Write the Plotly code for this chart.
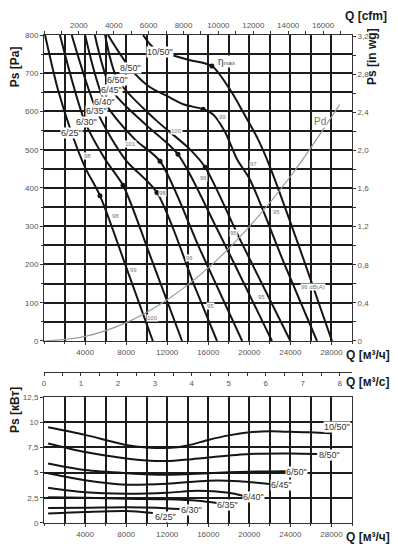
import plotly.graph_objects as go

# ---------------- data: fan curves, static pressure Ps [Pa] vs Q [m3/h] ----------------
NAMES = ['6/25"', '6/30"', '6/35"', '6/40"', '6/45"', '6/50"', '8/50"', '10/50"']

Q_625 = [100, 1350, 2700, 4000, 5450, 8100, 10600]
PA_625 = [800, 658, 543, 454, 380, 186, 0]
Q_630 = [1550, 4000, 5950, 7700, 10300, 13450]
PA_630 = [800, 572, 475, 407, 226, 0]
Q_635 = [2700, 5150, 7900, 11000, 14800, 16850]
PA_635 = [800, 601, 475, 388, 134, 0]
Q_640 = [4000, 5940, 8850, 11300, 15200, 19300]
PA_640 = [800, 624, 527, 470, 239, 0]
Q_645 = [4950, 6600, 9850, 13050, 16650, 22200]
PA_645 = [800, 656, 567, 488, 304, 0]
Q_650 = [5950, 7200, 10800, 14220, 15700, 19100, 24000]
PA_650 = [800, 682, 580, 501, 454, 265, 0]
Q_850 = [6230, 8400, 10300, 12000, 13550, 15500, 16450, 17650, 18800, 20050, 23450, 26590]
PA_850 = [800, 713, 664, 640, 619, 606, 593, 546, 475, 422, 199, 0]
Q_1050 = [9650, 10320, 11300, 12750, 14220, 16350, 18100, 19400, 20850, 22000, 24950, 28050]
PA_1050 = [800, 776, 755, 745, 734, 719, 658, 598, 527, 456, 239, 0]

# max-efficiency points
DOT_Q = [5450, 7700, 11000, 11300, 13050, 15700, 15500, 16350]
DOT_PA = [380, 407, 388, 470, 488, 454, 606, 719]

# dynamic pressure Pd
PD_Q = [0, 4000, 8000, 12000, 16000, 20000, 24000, 28800]
PD_PA = [0, 12, 48, 108, 191, 299, 430, 618]

# curve label anchor points (top chart)
LBL_Q = [2700, 4100, 5150, 5940, 6600, 7200, 8400, 11300]
LBL_PA = [543, 572, 601, 624, 656, 682, 713, 755]

# sound level labels
DB_TEXT = ['98', '101', '100', '99', '98', '96', '97', '98', '99', '100', '96', '95', '95', '95', '95', '96 dB(A)']
DB_Q = [4190, 8380, 12950, 17340, 11590, 15580, 20360, 6920, 8670, 10520, 14220, 16170, 18410, 21230, 22600, 26200]
DB_PA = [483, 514, 548, 585, 388, 425, 464, 328, 186, 60, 218, 92, 283, 115, 336, 142]

# ---------------- data: power [kW] vs Q [m3/h] ----------------
PQ_625 = [400, 4000, 8000, 10600]
KW_625 = [0.95, 1.1, 1.2, 1.0]
PQ_630 = [400, 4000, 8000, 11000, 13200]
KW_630 = [1.5, 1.52, 1.57, 1.52, 1.38]
PQ_635 = [400, 4000, 8000, 12000, 15000, 17000]
KW_635 = [2.55, 2.5, 2.4, 2.35, 2.2, 1.95]
PQ_640 = [400, 4000, 8000, 12000, 15000, 18000, 19400]
KW_640 = [3.5, 3.05, 2.9, 3.0, 3.2, 3.0, 2.7]
PQ_645 = [400, 4000, 8000, 12000, 16000, 19000, 22200]
KW_645 = [4.95, 4.25, 3.8, 3.9, 4.2, 4.15, 3.85]
PQ_650 = [400, 4000, 8000, 12000, 16000, 20000, 23700]
KW_650 = [5.9, 5.25, 4.95, 4.8, 4.95, 5.1, 5.15]
PQ_850 = [400, 4000, 8000, 10000, 12000, 14000, 16000, 20000, 24000, 26600]
KW_850 = [7.9, 7.05, 6.4, 6.2, 6.15, 6.3, 6.5, 6.85, 6.9, 6.85]
PQ_1050 = [400, 4000, 8000, 10000, 12000, 14000, 16000, 18000, 20000, 22000, 24000, 26000, 28000]
KW_1050 = [9.5, 8.75, 7.75, 7.5, 7.45, 7.7, 8.25, 8.7, 9.0, 9.1, 9.05, 9.0, 8.9]

PLBL_Q = [11790, 14410, 17920, 20360, 23180, 24640, 27760, 28540]
PLBL_KW = [0.6, 1.29, 1.79, 2.58, 3.77, 5.06, 6.75, 9.52]

# ---------------- tick labels ----------------
Q_TICKS = [4000, 8000, 12000, 16000, 20000, 24000, 28000]
Q_TICK_TEXT = ['4000', '8000', '12000', '16000', '20000', '24000', '28000']
PA_TICKS = [0, 100, 200, 300, 400, 500, 600, 700, 800]
PA_TICK_TEXT = ['0', '100', '200', '300', '400', '500', '600', '700', '800']
CFM_TICKS = [2000, 4000, 6000, 8000, 10000, 12000, 14000, 16000]
CFM_TICK_TEXT = ['2000', '4000', '6000', '8000', '10000', '12000', '14000', '16000']
WG_TICKS = [0, 0.4, 0.8, 1.2, 1.6, 2.0, 2.4, 2.8, 3.2]
WG_TICK_TEXT = ['0', '0,4', '0,8', '1,2', '1,6', '2,0', '2,4', '2,8', '3,2']
QS_TICKS = [0, 1, 2, 3, 4, 5, 6, 7, 8]
QS_TICK_TEXT = ['0', '1', '2', '3', '4', '5', '6', '7', '8']
KW_TICKS = [0, 2.5, 5, 7.5, 10, 12.5]
KW_TICK_TEXT = ['0', '2,5', '5', '7,5', '10', '12,5']

# ---------------- styling ----------------
FONT = 'Liberation Sans Narrow, Liberation Sans, Arial, sans-serif'
BOLD = 'Liberation Sans, Arial, sans-serif'
GRID = '#1c1c1c'
CURVE = '#151515'
TICKC = '#555555'

fig = go.Figure()

fan_q = [Q_625, Q_630, Q_635, Q_640, Q_645, Q_650, Q_850, Q_1050]
fan_p = [PA_625, PA_630, PA_635, PA_640, PA_645, PA_650, PA_850, PA_1050]
for name, qq, pp in zip(NAMES, fan_q, fan_p):
    fig.add_trace(go.Scatter(x=qq, y=pp, mode='lines', name=name,
                             line=dict(color=CURVE, width=2, shape='spline', smoothing=0.8),
                             xaxis='x', yaxis='y', hoverinfo='skip'))

fig.add_trace(go.Scatter(x=PD_Q, y=PD_PA, mode='lines', line=dict(color='#9a9a9a', width=1.2, shape='spline'),
                         xaxis='x', yaxis='y', hoverinfo='skip'))
fig.add_trace(go.Scatter(x=DOT_Q, y=DOT_PA, mode='markers', marker=dict(color=CURVE, size=5),
                         xaxis='x', yaxis='y', hoverinfo='skip'))

pow_q = [PQ_625, PQ_630, PQ_635, PQ_640, PQ_645, PQ_650, PQ_850, PQ_1050]
pow_k = [KW_625, KW_630, KW_635, KW_640, KW_645, KW_650, KW_850, KW_1050]
for name, qq, kk in zip(NAMES, pow_q, pow_k):
    fig.add_trace(go.Scatter(x=qq, y=kk, mode='lines', name=name,
                             line=dict(color=CURVE, width=2, shape='spline', smoothing=0.8),
                             xaxis='x2', yaxis='y2', hoverinfo='skip'))

# invisible traces so the secondary unit axes are drawn
fig.add_trace(go.Scatter(x=[0], y=[None], mode='markers', marker=dict(opacity=0), xaxis='x3', yaxis='y', hoverinfo='skip'))
fig.add_trace(go.Scatter(x=[0], y=[None], mode='markers', marker=dict(opacity=0), xaxis='x4', yaxis='y', hoverinfo='skip'))
fig.add_trace(go.Scatter(x=[None], y=[0], mode='markers', marker=dict(opacity=0), xaxis='x', yaxis='y3', hoverinfo='skip'))

tickfont = dict(family=FONT, size=8, color=TICKC)
common = dict(showline=True, linecolor='#333333', linewidth=1, ticks='outside', ticklen=3, tickcolor='#333333',
              zeroline=False, tickfont=tickfont)

# the page body has an 8px default margin, so the figure is 8px smaller than the window
fig.update_layout(
    width=390, height=549, margin=dict(l=36, r=46, t=27, b=34),
    paper_bgcolor='white', plot_bgcolor='white', showlegend=False,
    font=dict(family=FONT, size=8, color=TICKC),
    xaxis=dict(domain=[0, 1], anchor='y', range=[0, 30000], tickmode='array', tickvals=Q_TICKS, ticktext=Q_TICK_TEXT,
               showgrid=True, gridcolor=GRID, gridwidth=2,
               minor=dict(dtick=2000, tick0=0, showgrid=True, gridcolor=GRID, gridwidth=2, ticks='outside', ticklen=2),
               **common),
    yaxis=dict(domain=[0.373, 1], anchor='x', range=[0, 800], tickmode='array', tickvals=PA_TICKS, ticktext=PA_TICK_TEXT,
               showgrid=True, gridcolor=GRID, gridwidth=2,
               minor=dict(dtick=50, tick0=0, showgrid=True, gridcolor=GRID, gridwidth=2, ticks='outside', ticklen=2),
               **common),
    xaxis3=dict(overlaying='x', side='top', anchor='y', range=[0, 30000 / 1.699], tickmode='array',
                tickvals=CFM_TICKS, ticktext=CFM_TICK_TEXT, showgrid=False,
                minor=dict(dtick=1000, tick0=0, ticks='outside', ticklen=3, showgrid=False), **common),
    yaxis3=dict(overlaying='y', side='right', anchor='x', range=[0, 800 / 249.09], tickmode='array',
                tickvals=WG_TICKS, ticktext=WG_TICK_TEXT, showgrid=False,
                minor=dict(dtick=0.2, tick0=0, ticks='outside', ticklen=3, showgrid=False), **common),
    xaxis4=dict(overlaying='x', anchor='free', position=0.309, side='bottom', range=[0, 30000 / 3600],
                tickmode='array', tickvals=QS_TICKS, ticktext=QS_TICK_TEXT, showgrid=False,
                minor=dict(dtick=0.5, tick0=0, ticks='outside', ticklen=3, showgrid=False), **common),
    xaxis2=dict(domain=[0, 1], anchor='y2', range=[0, 30000], tickmode='array', tickvals=Q_TICKS, ticktext=Q_TICK_TEXT,
                showgrid=True, gridcolor=GRID, gridwidth=2, mirror=True,
                minor=dict(dtick=2000, tick0=0, showgrid=True, gridcolor=GRID, gridwidth=2, ticks='outside', ticklen=2),
                **common),
    yaxis2=dict(domain=[0, 0.258], anchor='x2', range=[0, 12.5], tickmode='array', tickvals=KW_TICKS, ticktext=KW_TICK_TEXT,
                showgrid=True, gridcolor=GRID, gridwidth=2, mirror=True, **common),
)

ann = []
lblfont = dict(family=FONT, size=9, color='#333333')
for name, qx, py in zip(NAMES, LBL_Q, LBL_PA):
    ann.append(dict(x=qx, y=py, xref='x', yref='y', text=name, showarrow=False, font=lblfont,
                    bgcolor='white', borderpad=0, xanchor='center', yanchor='middle'))
for name, qx, kw in zip(NAMES, PLBL_Q, PLBL_KW):
    ann.append(dict(x=qx, y=kw, xref='x2', yref='y2', text=name, showarrow=False, font=lblfont,
                    bgcolor='white', borderpad=0, xanchor='center', yanchor='middle'))
for t, qx, py in zip(DB_TEXT, DB_Q, DB_PA):
    ann.append(dict(x=qx, y=py, xref='x', yref='y', text=t, showarrow=False,
                    font=dict(family=FONT, size=6, color='#777777'), bgcolor='white', borderpad=0))
ann.append(dict(x=16850, y=732, xref='x', yref='y', text='η<span style="font-size:6px">max</span>', showarrow=False,
                font=dict(family=FONT, size=10, color='#444444'), bgcolor='white', borderpad=0, xanchor='left'))
ann.append(dict(x=26900, y=574, xref='x', yref='y', text='Pd', showarrow=False,
                font=dict(family=FONT, size=10, color='#777777'), bgcolor='white', borderpad=0))

tfont = dict(family=BOLD, size=12, color='#1a1a1a')
titles = [
    ('<b>Ps [Pa]</b>', -0.094, 0.934, -90),
    ('<b>Ps [in wg]</b>', 1.065, 0.955, -90),
    ('<b>Q [cfm]</b>', 1.045, 1.039, 0),
    ('<b>Q [м³/ч]</b>', 1.052, 0.344, 0),
    ('<b>Q [м³/с]</b>', 1.052, 0.289, 0),
    ('<b>Ps [кВт]</b>', -0.094, 0.2316, -90),
    ('<b>Q [м³/ч]</b>', 1.052, -0.0287, 0),
]
for t, xp, yp, ang in titles:
    ann.append(dict(x=xp, y=yp, xref='paper', yref='paper', text=t, showarrow=False, font=tfont,
                    textangle=ang, xanchor='center', yanchor='middle'))

fig.update_layout(annotations=ann)
fig.write_html('out.html')
